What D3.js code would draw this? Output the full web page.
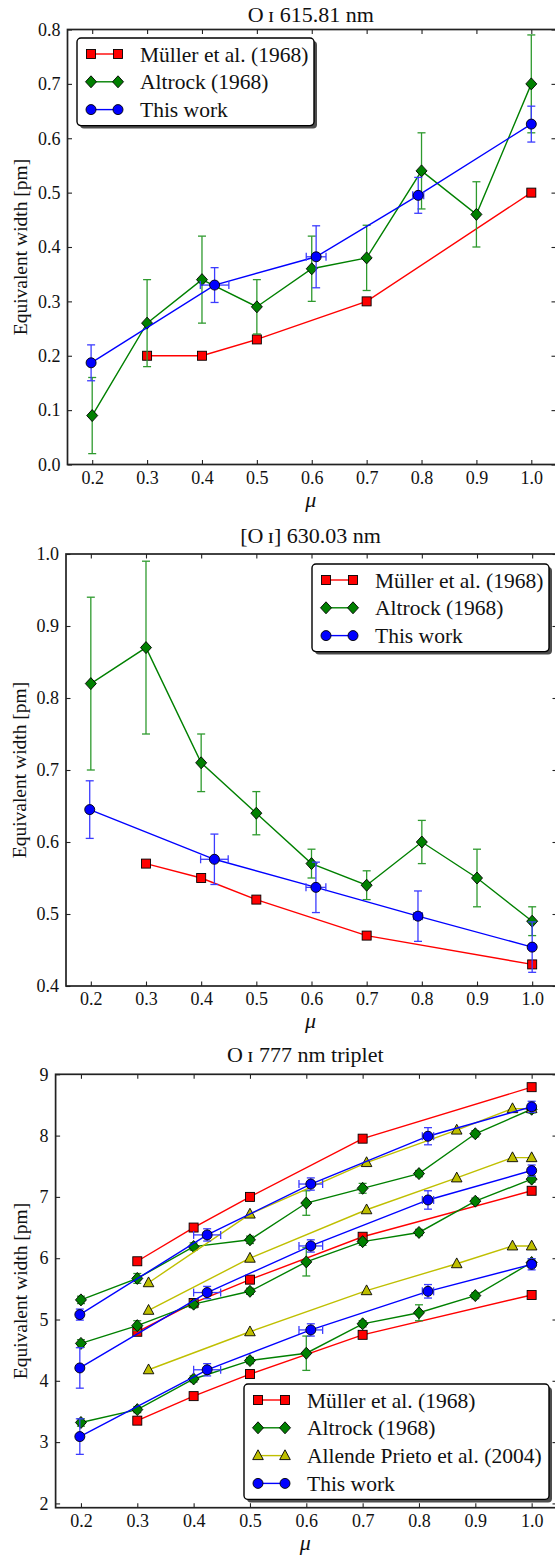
<!DOCTYPE html>
<html><head><meta charset="utf-8">
<script src="https://cdn.jsdelivr.net/npm/d3@7"></script>
<style>
body{margin:0;background:#fff}
svg text{font-family:"Liberation Serif","Times New Roman",serif;fill:#111}
</style></head>
<body><svg id="chart" width="555" height="1555"></svg>
<script>
// ---------------- DATA ----------------
const xTicks = [0.2,0.3,0.4,0.5,0.6,0.7,0.8,0.9,1.0];
const xTickLabels = ["0.2","0.3","0.4","0.5","0.6","0.7","0.8","0.9","1.0"];
const seriesNames = ["Müller et al. (1968)","Altrock (1968)","Allende Prieto et al. (2004)","This work"];

// Panel 1: O I 615.81 nm
const p1Title = "O\u2009ɪ 615.81 nm";
const p1YTicks = [0.0,0.1,0.2,0.3,0.4,0.5,0.6,0.7,0.8];
const p1YTickLabels = ["0.0","0.1","0.2","0.3","0.4","0.5","0.6","0.7","0.8"];
const p1MullerMu = [0.3,0.4,0.5,0.7,1.0];
const p1MullerW  = [0.20,0.20,0.23,0.30,0.50];
const p1AltrockMu  = [0.2,0.3,0.4,0.5,0.6,0.7,0.8,0.9,1.0];
const p1AltrockW   = [0.09,0.26,0.34,0.29,0.36,0.38,0.54,0.46,0.70];
const p1AltrockErr = [0.07,0.08,0.08,0.05,0.06,0.06,0.07,0.06,0.09];
const p1ThisMu    = [0.198,0.423,0.608,0.794,1.0];
const p1ThisMuErr = [0,0.026,0.018,0.010,0];
const p1ThisW     = [0.187,0.330,0.382,0.495,0.626];
const p1ThisErr   = [0.033,0.032,0.057,0.033,0.033];

// Panel 2: [O I] 630.03 nm
const p2Title = "[O\u2009ɪ] 630.03 nm";
const p2YTicks = [0.4,0.5,0.6,0.7,0.8,0.9,1.0];
const p2YTickLabels = ["0.4","0.5","0.6","0.7","0.8","0.9","1.0"];
const p2MullerMu = [0.3,0.4,0.5,0.7,1.0];
const p2MullerW  = [0.57,0.55,0.52,0.47,0.43];
const p2AltrockMu  = [0.2,0.3,0.4,0.5,0.6,0.7,0.8,0.9,1.0];
const p2AltrockW   = [0.82,0.87,0.71,0.64,0.57,0.54,0.60,0.55,0.49];
const p2AltrockErr = [0.12,0.12,0.04,0.03,0.02,0.02,0.03,0.04,0.02];
const p2ThisMu    = [0.198,0.424,0.608,0.793,1.0];
const p2ThisMuErr = [0,0.025,0.018,0.008,0];
const p2ThisW     = [0.645,0.576,0.537,0.497,0.454];
const p2ThisErr   = [0.040,0.035,0.035,0.035,0.035];

// Panel 3: O I 777 nm triplet (three lines per source)
const p3Title = "O\u2009ɪ 777 nm triplet";
const p3YTicks = [2,3,4,5,6,7,8,9];
const p3YTickLabels = ["2","3","4","5","6","7","8","9"];
const p3MullerMu = [0.3,0.4,0.5,0.7,1.0];
const p3MullerW = [
  [5.95,6.50,7.00,7.95,8.79],
  [4.80,5.27,5.65,6.35,7.10],
  [3.35,3.75,4.11,4.75,5.40]
];
const p3AltrockMu = [0.2,0.3,0.4,0.5,0.6,0.7,0.8,0.9,1.0];
const p3AltrockW = [
  [5.32,5.67,6.19,6.30,6.90,7.14,7.38,8.03,8.43],
  [4.61,4.90,5.25,5.46,5.94,6.27,6.42,6.93,7.29],
  [3.32,3.53,4.03,4.33,4.45,4.93,5.11,5.39,5.93]
];
const p3AltrockErr = [
  [0.06,0.08,0.06,0.06,0.20,0.08,0.05,0.05,0.06],
  [0.06,0.08,0.06,0.05,0.23,0.06,0.05,0.05,0.05],
  [0.06,0.05,0.05,0.05,0.28,0.05,0.13,0.05,0.06]
];
const p3AllendeMu = [0.32,0.50,0.707,0.867,0.966,1.0];
const p3AllendeW = [
  [5.60,6.72,7.56,8.09,8.44,8.44],
  [5.15,6.00,6.79,7.31,7.64,7.64],
  [4.18,4.80,5.47,5.91,6.20,6.20]
];
const p3ThisMu    = [0.198,0.424,0.608,0.816,1.0];
const p3ThisMuErr = [0,0.024,0.021,0.010,0];
const p3ThisW = [
  [5.08,6.38,7.21,7.99,8.47],
  [4.21,5.44,6.20,6.95,7.43],
  [3.09,4.18,4.83,5.46,5.90]
];
const p3ThisErr = [
  [0.09,0.10,0.10,0.14,0.09],
  [0.33,0.10,0.10,0.15,0.09],
  [0.29,0.10,0.10,0.11,0.09]
];

// ---------------- STYLE / LAYOUT ----------------
const styles = {
  muller:  {color:"#ff0000", err:"#ff0000", marker:"square"},
  altrock: {color:"#008000", err:"#2e9a2e", marker:"diamond"},
  allende: {color:"#bfbf00", err:"#bfbf00", marker:"triangle"},
  thiswork:{color:"#0000ff", err:"#3c3cff", marker:"circle"}
};

function rows(mu, w, err, muErr){
  return mu.map((m,i)=>({x:m, y:w[i], ey:err?err[i]:0, ex:muErr?muErr[i]:0}));
}

const panels = [
  {title:p1Title, titleY:22, left:67.5, right:556, top:29.5, bottom:464.5,
   yDomain:[0,0.8], yTicks:p1YTicks, yLabels:p1YTickLabels, ylabX:21,
   legend:{x:77,y:38,w:237,names:[0,1,3],keys:["muller","altrock","thiswork"]},
   series:[
     {key:"muller", lines:[rows(p1MullerMu,p1MullerW)]},
     {key:"altrock", lines:[rows(p1AltrockMu,p1AltrockW,p1AltrockErr)]},
     {key:"thiswork", lines:[rows(p1ThisMu,p1ThisW,p1ThisErr,p1ThisMuErr)]}
   ]},
  {title:p2Title, titleY:543, left:66, right:557, top:554, bottom:986,
   yDomain:[0.4,1.0], yTicks:p2YTicks, yLabels:p2YTickLabels, ylabX:20,
   legend:{x:312,y:564,w:237,names:[0,1,3],keys:["muller","altrock","thiswork"]},
   series:[
     {key:"muller", lines:[rows(p2MullerMu,p2MullerW)]},
     {key:"altrock", lines:[rows(p2AltrockMu,p2AltrockW,p2AltrockErr)]},
     {key:"thiswork", lines:[rows(p2ThisMu,p2ThisW,p2ThisErr,p2ThisMuErr)]}
   ]},
  {title:p3Title, titleY:1062, left:55.6, right:557, top:1074.3, bottom:1507.7,
   yDomain:[1.93,9], yTicks:p3YTicks, yLabels:p3YTickLabels, ylabX:21,
   legend:{x:244,y:1384,w:305,names:[0,1,2,3],keys:["muller","altrock","allende","thiswork"]},
   series:[
     {key:"muller", lines:p3MullerW.map(w=>rows(p3MullerMu,w))},
     {key:"altrock", lines:p3AltrockW.map((w,i)=>rows(p3AltrockMu,w,p3AltrockErr[i]))},
     {key:"allende", lines:p3AllendeW.map(w=>rows(p3AllendeMu,w))},
     {key:"thiswork", lines:p3ThisW.map((w,i)=>rows(p3ThisMu,w,p3ThisErr[i],p3ThisMuErr))}
   ]}
];

const svg = d3.select("#chart");

function drawMarker(g, type, cx, cy, color){
  let el;
  if(type==="square"){
    el = g.append("rect").attr("x",cx-4.5).attr("y",cy-4.5).attr("width",9).attr("height",9);
  } else if(type==="diamond"){
    el = g.append("path").attr("d",`M${cx},${cy-6}L${cx+5.5},${cy}L${cx},${cy+6}L${cx-5.5},${cy}Z`);
  } else if(type==="triangle"){
    el = g.append("path").attr("d",`M${cx},${cy-5.8}L${cx+5.3},${cy+4}L${cx-5.3},${cy+4}Z`);
  } else {
    el = g.append("circle").attr("cx",cx).attr("cy",cy).attr("r",5);
  }
  el.attr("fill",color).attr("stroke","#000").attr("stroke-width",0.9);
}

panels.forEach(p=>{
  const x = d3.scaleLinear().domain([0.155,1.045]).range([p.left,p.right]);
  const y = d3.scaleLinear().domain(p.yDomain).range([p.bottom,p.top]);
  const g = svg.append("g");

  // axes (inward ticks)
  const fmtX = (d,i)=>xTickLabels[i];
  const fmtY = (d,i)=>p.yLabels[i];
  const bx = g.append("g").attr("transform",`translate(0,${p.bottom})`)
    .call(d3.axisBottom(x).tickValues(xTicks).tickFormat(fmtX).tickSizeInner(-4.5).tickSizeOuter(0).tickPadding(6.5));
  const tx = g.append("g").attr("transform",`translate(0,${p.top})`)
    .call(d3.axisTop(x).tickValues(xTicks).tickFormat(()=>"").tickSizeInner(-4.5).tickSizeOuter(0));
  const ly = g.append("g").attr("transform",`translate(${p.left},0)`)
    .call(d3.axisLeft(y).tickValues(p.yTicks).tickFormat(fmtY).tickSizeInner(-4.5).tickSizeOuter(0).tickPadding(7));
  const ry = g.append("g").attr("transform",`translate(${p.right},0)`)
    .call(d3.axisRight(y).tickValues(p.yTicks).tickFormat(()=>"").tickSizeInner(-4.5).tickSizeOuter(0));
  [bx,tx,ly,ry].forEach(a=>{
    a.attr("font-family",null);
    a.select(".domain").remove();
    a.selectAll(".tick line").attr("stroke","#222").attr("stroke-width",1.1);
    a.selectAll("text").attr("font-size",18).attr("fill","#111").style("font-family",'"Liberation Serif",serif');
  });

  // frame
  g.append("rect").attr("x",p.left).attr("y",p.top).attr("width",p.right-p.left).attr("height",p.bottom-p.top)
    .attr("fill","none").attr("stroke","#222").attr("stroke-width",1.7);

  // title
  g.append("text").attr("x",(p.left+p.right)/2 - 1).attr("y",p.titleY).attr("text-anchor","middle")
    .attr("font-size",22).text(p.title);
  // x label
  g.append("text").attr("x",(p.left+p.right)/2 - 1).attr("y",p.bottom+42).attr("text-anchor","middle")
    .attr("font-size",22).attr("font-style","italic").text("μ");
  // y label
  g.append("text").attr("transform",`translate(${p.ylabX + 6},${(p.top+p.bottom)/2}) rotate(-90)`)
    .attr("text-anchor","middle").attr("font-size",19.5).text("Equivalent width [pm]");

  // series
  const line = d3.line().x(d=>x(d.x)).y(d=>y(d.y));
  p.series.forEach(s=>{
    const st = styles[s.key];
    s.lines.forEach(pts=>{
      const sg = g.append("g");
      sg.append("path").attr("d",line(pts)).attr("fill","none").attr("stroke",st.color).attr("stroke-width",1.4);
      pts.forEach(d=>{
        if(d.ey>0){
          const cx=x(d.x), y0=y(d.y-d.ey), y1=y(d.y+d.ey);
          sg.append("line").attr("x1",cx).attr("x2",cx).attr("y1",y0).attr("y2",y1).attr("stroke",st.err).attr("stroke-width",1.3);
          [y0,y1].forEach(yy=>sg.append("line").attr("x1",cx-4).attr("x2",cx+4).attr("y1",yy).attr("y2",yy).attr("stroke",st.err).attr("stroke-width",1.3));
        }
        if(d.ex>0){
          const cy=y(d.y), x0=x(d.x-d.ex), x1=x(d.x+d.ex);
          sg.append("line").attr("x1",x0).attr("x2",x1).attr("y1",cy).attr("y2",cy).attr("stroke",st.err).attr("stroke-width",1.3);
          [x0,x1].forEach(xx=>sg.append("line").attr("x1",xx).attr("x2",xx).attr("y1",cy-4).attr("y2",cy+4).attr("stroke",st.err).attr("stroke-width",1.3));
        }
      });
      pts.forEach(d=>drawMarker(sg, st.marker, x(d.x), y(d.y), st.color));
    });
  });

  // legend
  const L = p.legend, n = L.keys.length, step = 27.8;
  const h = 32 + step*(n-1);
  const lg = g.append("g");
  lg.append("rect").attr("x",L.x+3).attr("y",L.y+3).attr("width",L.w).attr("height",h).attr("rx",4)
    .attr("fill","#4d4d4d");
  lg.append("rect").attr("x",L.x).attr("y",L.y).attr("width",L.w).attr("height",h).attr("rx",4)
    .attr("fill","#fff").attr("stroke","#000").attr("stroke-width",1.4);
  L.keys.forEach((k,i)=>{
    const st = styles[k], yy = L.y + 16 + step*i;
    lg.append("line").attr("x1",L.x+14).attr("x2",L.x+41).attr("y1",yy).attr("y2",yy).attr("stroke",st.color).attr("stroke-width",1.4);
    drawMarker(lg, st.marker, L.x+14, yy, st.color);
    drawMarker(lg, st.marker, L.x+41, yy, st.color);
    lg.append("text").attr("x",L.x+63).attr("y",yy).attr("dy","0.35em").attr("font-size",21.5).text(seriesNames[L.names[i]]);
  });
});
</script></body></html>
